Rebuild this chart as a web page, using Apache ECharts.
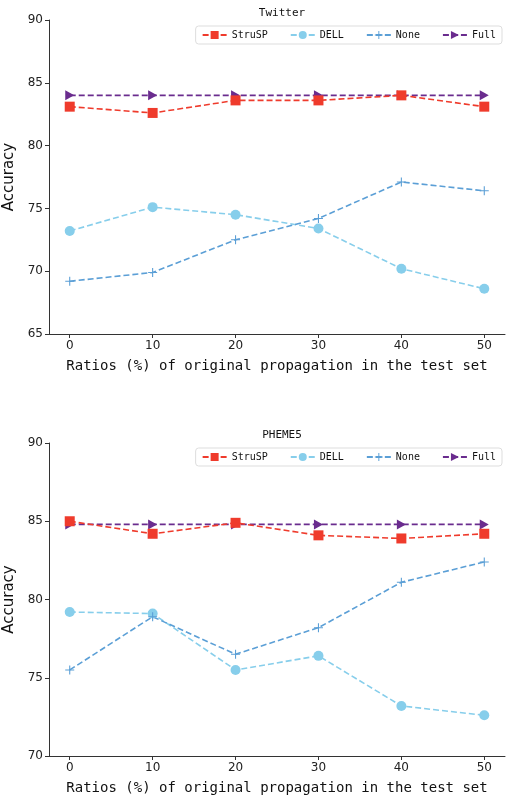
<!DOCTYPE html>
<html>
<head>
<meta charset="utf-8">
<script src="https://cdn.jsdelivr.net/npm/echarts@6/dist/echarts.min.js"></script>
<style>
  html, body { margin: 0; padding: 0; background: #fff; }
  #main { width: 506px; height: 798px; }
</style>
</head>
<body>
<div id="main"></div>
<script>
// x positions (ratio %)
const ratios = [0, 10, 20, 30, 40, 50]
const seriesNames = ['StruSP', 'DELL', 'None', 'Full']

// Twitter
const twStruSP = [83.1, 82.6, 83.6, 83.6, 84.0, 83.1]
const twDELL = [73.2, 75.1, 74.5, 73.4, 70.2, 68.6]
const twNone = [69.2, 69.9, 72.5, 74.2, 77.1, 76.4]
const twFull = [84.0, 84.0, 84.0, 84.0, 84.0, 84.0]

// PHEME5
const phStruSP = [85.0, 84.2, 84.9, 84.1, 83.9, 84.2]
const phDELL = [79.2, 79.1, 75.5, 76.4, 73.2, 72.6]
const phNone = [75.5, 78.9, 76.5, 78.2, 81.1, 82.4]
const phFull = [84.8, 84.8, 84.8, 84.8, 84.8, 84.8]

const mono = 'DejaVu Sans Mono'
const axisColor = '#333'
const plus = 'path://M-0.12,-1H0.12V-0.12H1V0.12H0.12V1H-0.12V0.12H-1V-0.12H-0.12Z'
const triRight = 'path://M0,0L1,0.5L0,1Z'

const styles = {
  StruSP: { color: '#ef3b2c', symbol: 'rect', symbolSize: 10 },
  DELL: { color: '#87ceeb', symbol: 'circle', symbolSize: 10 },
  None: { color: '#5b9fd6', symbol: plus, symbolSize: 9 },
  Full: { color: '#6a2c8e', symbol: triRight, symbolSize: [9, 10] },
}

const pairs = arr => ratios.map((r, i) => [r, arr[i]])

const makeSeries = (idx, data) =>
  seriesNames.map((name, k) => ({
    name: name,
    type: 'line',
    xAxisIndex: idx,
    yAxisIndex: idx,
    data: pairs(data[k]),
    symbol: styles[name].symbol,
    symbolSize: styles[name].symbolSize,
    itemStyle: { color: styles[name].color },
    lineStyle: { color: styles[name].color, width: 1.6, type: [6, 3] },
    z: name === 'Full' ? 1 : 2,
  }))

const makeXAxis = (idx) => ({
  type: 'value',
  gridIndex: idx,
  min: -2.5,
  max: 52.5,
  splitLine: { show: false },
  axisLine: { onZero: false, lineStyle: { color: axisColor } },
  axisTick: { customValues: ratios, length: 4, lineStyle: { color: axisColor } },
  axisLabel: { customValues: ratios, color: '#222', fontSize: 12, fontFamily: 'DejaVu Sans', margin: 6 },
  name: 'Ratios (%) of original propagation in the test set',
  nameLocation: 'middle',
  nameGap: 25,
  nameTextStyle: { fontFamily: mono, fontSize: 14, color: '#111' },
})

const makeYAxis = (idx, min, max) => ({
  type: 'value',
  gridIndex: idx,
  min: min,
  max: max,
  interval: 5,
  splitLine: { show: false },
  axisLine: { show: true, onZero: false, lineStyle: { color: axisColor } },
  axisTick: { show: true, length: 4, lineStyle: { color: axisColor } },
  axisLabel: { color: '#222', fontSize: 12, fontFamily: 'DejaVu Sans', margin: 6 },
  name: 'Accuracy',
  nameLocation: 'middle',
  nameGap: 26,
  nameTextStyle: { fontFamily: 'DejaVu Sans', fontSize: 15, color: '#111' },
})

const makeLegend = (top) => ({
  data: seriesNames,
  top: top,
  right: 4,
  itemGap: 22,
  itemWidth: 24,
  itemHeight: 10,
  padding: [4, 6],
  borderColor: '#ddd',
  borderWidth: 1,
  borderRadius: 3,
  textStyle: { fontFamily: mono, fontSize: 10, color: '#111' },
})

const option = {
  animation: false,
  title: [
    { text: 'Twitter', left: 277, textAlign: 'center', top: 3,
      textStyle: { fontFamily: mono, fontSize: 11, fontWeight: 'normal', color: '#111' } },
    { text: 'PHEME5', left: 277, textAlign: 'center', top: 425,
      textStyle: { fontFamily: mono, fontSize: 11, fontWeight: 'normal', color: '#111' } },
  ],
  legend: [makeLegend(26), makeLegend(448)],
  grid: [
    { left: 49, right: 1, top: 20, height: 314, outerBoundsMode: 'none' },
    { left: 49, right: 1, top: 443, height: 313, outerBoundsMode: 'none' },
  ],
  xAxis: [makeXAxis(0), makeXAxis(1)],
  yAxis: [makeYAxis(0, 65, 90), makeYAxis(1, 70, 90)],
  series: [
    ...makeSeries(0, [twStruSP, twDELL, twNone, twFull]),
    ...makeSeries(1, [phStruSP, phDELL, phNone, phFull]),
  ],
}

const myChart = echarts.init(document.getElementById('main'))
myChart.setOption(option)
</script>
</body>
</html>
